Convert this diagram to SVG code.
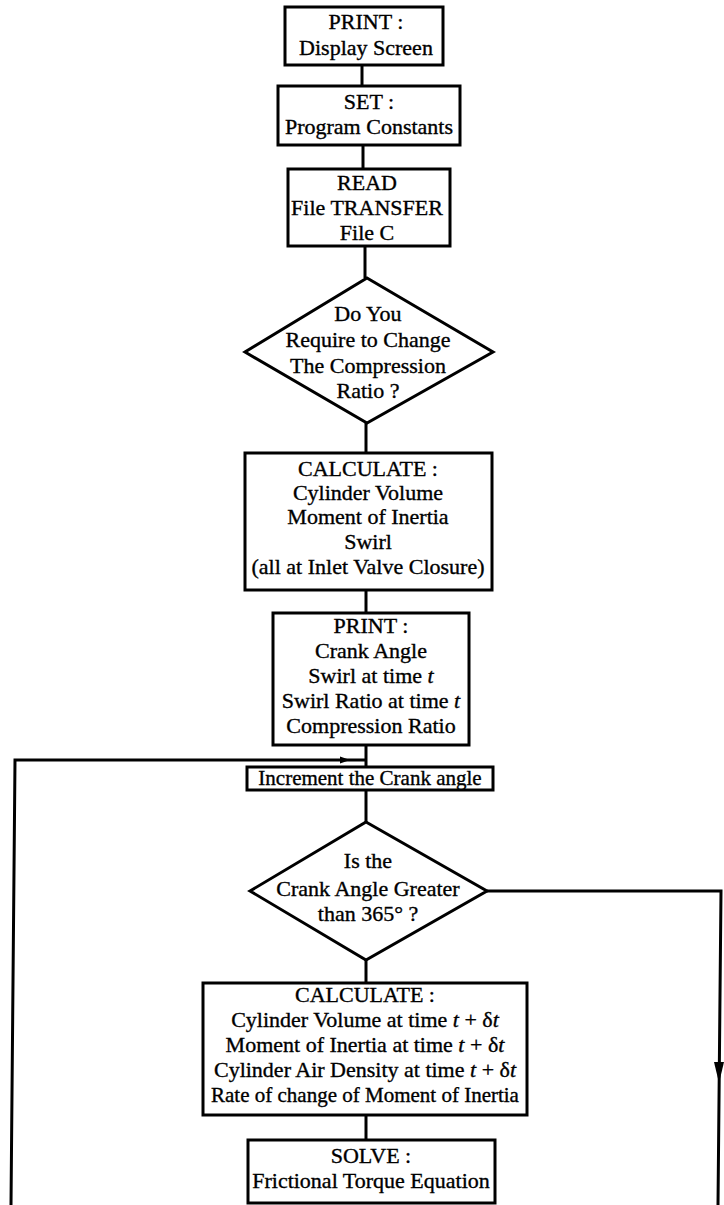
<svg xmlns="http://www.w3.org/2000/svg" width="724" height="1205" viewBox="0 0 724 1205">
  <style>
    .box { fill: #fff; stroke: #000; stroke-width: 3; }
    .wire { fill: none; stroke: #000; stroke-width: 3; }
    text { font-family: "Liberation Serif", "Times New Roman", serif; font-size: 22px; fill: #000; stroke: #000; stroke-width: 0.35; text-anchor: middle; }
    .it { font-style: italic; }
    .snug { font-size: 21px; }
  </style>
  <rect width="724" height="1205" fill="#fff"/>

  <!-- connectors -->
  <g id="connectors">
    <line class="wire" x1="362" y1="65" x2="362" y2="86"/>
    <line class="wire" x1="363" y1="145" x2="363" y2="169"/>
    <line class="wire" x1="365" y1="246" x2="365" y2="278"/>
    <line class="wire" x1="366" y1="423" x2="366" y2="453"/>
    <line class="wire" x1="366" y1="590" x2="366" y2="613"/>
    <line class="wire" x1="366" y1="745" x2="366" y2="767"/>
    <line class="wire" x1="366" y1="790" x2="366" y2="822"/>
    <line class="wire" x1="366" y1="960" x2="366" y2="983"/>
    <line class="wire" x1="366" y1="1115" x2="366" y2="1140"/>
    <!-- return loop on the left -->
    <polyline class="wire" points="11,1205 15,760 366,760"/>
    <path d="M340,756.5 L340,763.5 L350,760 Z" fill="#000"/>
    <!-- exit on the right of the crank-angle test -->
    <polyline class="wire" points="487,891 721,891 718,1205"/>
    <path d="M714,1062 L724,1062 L719,1083 Z" fill="#000"/>
  </g>

  <g id="print-display">
    <rect class="box" x="285" y="7" width="158" height="58"/>
    <text x="366" y="29">PRINT :</text>
    <text x="366" y="55">Display Screen</text>
  </g>

  <g id="set-constants">
    <rect class="box" x="278" y="86" width="182" height="59"/>
    <text x="369" y="109">SET :</text>
    <text x="369" y="134">Program Constants</text>
  </g>

  <g id="read-file">
    <rect class="box" x="288" y="169" width="162" height="77"/>
    <text x="367" y="190">READ</text>
    <text x="367" y="215">File TRANSFER</text>
    <text x="367" y="240">File C</text>
  </g>

  <g id="ask-compression">
    <polygon class="box" points="367,278 493,352 367,423 245,352"/>
    <text x="368" y="321">Do You</text>
    <text x="368" y="347">Require to Change</text>
    <text x="368" y="373">The Compression</text>
    <text x="368" y="398">Ratio ?</text>
  </g>

  <g id="calc-ivc">
    <rect class="box" x="245" y="453" width="247" height="137"/>
    <text x="368" y="476">CALCULATE :</text>
    <text x="368" y="500">Cylinder Volume</text>
    <text x="368" y="524">Moment of Inertia</text>
    <text x="368" y="549">Swirl</text>
    <text x="368" y="574">(all at Inlet Valve Closure)</text>
  </g>

  <g id="print-state">
    <rect class="box" x="273" y="613" width="196" height="132"/>
    <text x="371" y="633">PRINT :</text>
    <text x="371" y="658">Crank Angle</text>
    <text x="371" y="683">Swirl at time <tspan class="it">t</tspan></text>
    <text x="371" y="708">Swirl Ratio at time <tspan class="it">t</tspan></text>
    <text x="371" y="733">Compression Ratio</text>
  </g>

  <g id="increment">
    <rect class="box" x="247" y="767" width="246" height="23"/>
    <text class="snug" x="370" y="785">Increment the Crank angle</text>
  </g>

  <g id="test-angle">
    <polygon class="box" points="366,822 487,891 366,960 250,891"/>
    <text x="368" y="868">Is the</text>
    <text x="368" y="896">Crank Angle Greater</text>
    <text x="368" y="921">than 365° ?</text>
  </g>

  <g id="calc-step">
    <rect class="box" x="203" y="983" width="324" height="132"/>
    <text x="365" y="1002">CALCULATE :</text>
    <text x="365" y="1027">Cylinder Volume at time <tspan class="it">t</tspan> + δ<tspan class="it">t</tspan></text>
    <text x="365" y="1052">Moment of Inertia at time <tspan class="it">t</tspan> + δ<tspan class="it">t</tspan></text>
    <text x="365" y="1077">Cylinder Air Density at time <tspan class="it">t</tspan> + δ<tspan class="it">t</tspan></text>
    <text class="snug" x="365" y="1102">Rate of change of Moment of Inertia</text>
  </g>

  <g id="solve-torque">
    <rect class="box" x="248" y="1140" width="247" height="63"/>
    <text x="371" y="1163">SOLVE :</text>
    <text x="371" y="1188">Frictional Torque Equation</text>
  </g>
</svg>
